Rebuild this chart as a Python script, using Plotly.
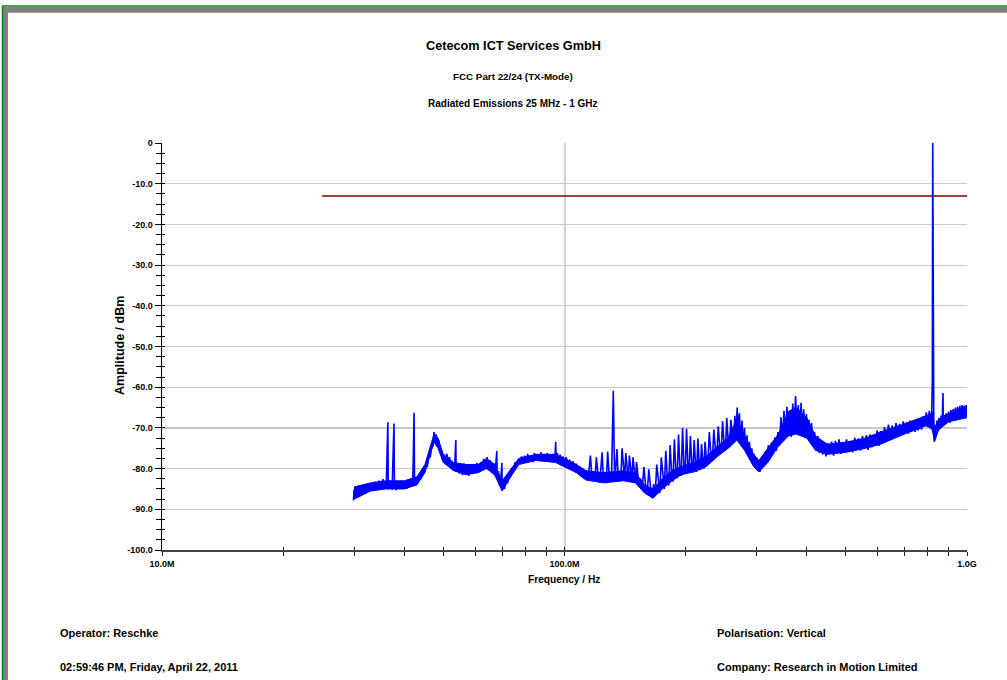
import plotly.graph_objects as go

# ---------------- data ----------------
freq_mhz = [
    29.9, 30.0, 30.3, 30.6, 30.9, 31.2, 31.5, 31.8, 32.1, 32.4,
    32.7, 33.0, 33.4, 33.8, 34.2, 34.6, 35.0, 35.4, 35.8, 36.1,
    36.4, 36.5, 36.9, 37.3, 37.7, 37.8, 38.2, 38.6, 39.0, 39.4,
    39.8, 40.2, 40.6, 41.0, 41.5, 42.0, 42.3, 42.4, 42.8, 43.2,
    43.6, 44.0, 44.4, 44.8, 45.2, 45.6, 46.0, 46.4, 46.8, 47.1,
    47.4, 47.7, 48.0, 48.3, 48.7, 49.0, 49.4, 49.8, 50.2, 50.6,
    51.0, 51.4, 51.8, 52.2, 52.6, 53.0, 53.4, 53.7, 53.8, 54.3,
    54.8, 55.3, 55.8, 56.3, 56.8, 57.3, 57.8, 58.3, 58.8, 59.4,
    60.0, 60.6, 61.2, 61.8, 62.4, 63.0, 63.6, 64.2, 64.8, 65.4,
    66.0, 66.6, 67.2, 67.9, 68.0, 68.5, 69.0, 69.5, 69.9, 70.0,
    70.5, 71.0, 71.6, 72.2, 72.8, 73.4, 74.0, 74.7, 75.4, 76.1,
    76.8, 77.5, 78.2, 78.9, 79.6, 80.3, 81.0, 81.8, 82.6, 83.4,
    84.2, 85.0, 85.8, 86.6, 87.4, 88.2, 89.0, 89.8, 90.6, 91.4,
    92.2, 93.0, 93.8, 94.6, 95.1, 95.3, 96.0, 96.8, 97.6, 98.4,
    99.2, 100.0, 101, 102, 103, 104, 105, 106, 107, 108,
    109, 110, 111, 112, 113, 114, 115, 116, 117, 118,
    119, 120, 121, 122, 123, 124, 125, 126, 127, 128,
    129, 130, 131, 132.2, 133.2, 134, 135, 136, 137, 138,
    139, 140, 141, 142, 143, 144, 145, 146, 147, 148,
    149, 150, 151, 152, 153, 154.5, 156, 157.5, 159, 160.5,
    162, 163.5, 165, 166.5, 168, 169.5, 171, 172.5, 174, 175.5,
    177, 178.5, 180, 181.5, 183, 184.5, 186, 187.5, 189, 190.5,
    192, 193.5, 195, 196.5, 198, 199.5, 201, 202.5, 204, 205.5,
    207, 208.5, 210, 211.5, 213, 214.5, 216, 217.5, 219, 220.5,
    222, 223.5, 225, 227, 229, 231, 233, 235, 237, 239,
    241, 243, 245, 247, 249, 251, 253, 255, 257, 259,
    261, 263, 265, 267, 268.5, 270, 272, 274, 276, 278,
    280, 282, 284, 286, 288, 290, 292, 294, 296, 298,
    300, 302, 304, 306, 309, 312, 315, 318, 321, 324,
    327, 330, 333, 336, 339, 342, 345, 348, 351, 354,
    357, 360, 363, 366, 369, 372, 375, 378, 381, 384,
    387, 390, 393, 396, 399, 402, 405, 408, 411, 414,
    418, 422, 426, 430, 434, 438, 442, 446, 451, 456,
    461, 466, 471, 476, 481, 486, 491, 496, 502, 508,
    514, 520, 526, 532, 538, 544, 550, 556, 562, 568,
    574, 580, 586, 592, 598, 604, 610, 617, 624, 631,
    638, 645, 652, 659, 666, 673, 680, 687, 694, 701,
    708, 715, 722, 729, 736, 743, 750, 757, 764, 771,
    778, 785, 792, 799, 806, 812, 817, 820, 822, 824,
    827, 830, 834, 838, 842, 847, 852, 857, 862, 867,
    871.7, 873, 878, 883, 888, 894, 900, 906, 912, 918,
    924, 930, 936, 942, 948, 954, 960, 966, 972, 978,
    984, 990, 996, 1000,
]

level_dbm = [
    -87.8, -85.2, -87.0, -85.0, -86.5, -84.6, -86.2, -84.2, -85.6, -83.8,
    -85.3, -83.6, -85.0, -83.2, -84.8, -83.0, -84.6, -82.6, -84.5, -83.2,
    -68.6, -84.8, -83.0, -85.2, -68.9, -84.0, -85.3, -83.2, -84.8, -83.0,
    -85.0, -83.4, -84.9, -83.0, -84.4, -82.8, -66.3, -83.6, -82.2, -83.4,
    -81.8, -82.6, -80.5, -81.2, -79.0, -79.6, -76.8, -77.2, -74.2, -74.6,
    -71.0, -72.6, -71.6, -73.4, -73.0, -75.8, -76.2, -77.8, -76.6, -77.8,
    -76.4, -78.0, -77.2, -79.8, -78.6, -80.4, -78.8, -73.0, -80.8, -79.0,
    -81.2, -79.4, -81.6, -78.8, -80.8, -79.2, -81.8, -79.0, -81.2, -79.4,
    -81.0, -78.6, -80.6, -79.2, -80.2, -77.6, -79.6, -77.2, -79.8, -78.0,
    -80.4, -78.6, -81.2, -75.7, -82.0, -80.6, -84.2, -82.4, -78.6, -85.4,
    -83.0, -85.0, -82.2, -83.6, -80.8, -82.0, -79.8, -80.6, -78.4, -79.6,
    -77.8, -78.8, -77.0, -78.6, -76.8, -78.4, -76.4, -78.2, -76.8, -78.4,
    -76.2, -77.8, -76.6, -78.0, -76.0, -77.6, -76.4, -78.2, -76.2, -77.8,
    -76.6, -78.4, -76.4, -77.6, -73.4, -77.8, -76.2, -78.2, -76.6, -78.6,
    -77.0, -79.2, -77.2, -79.4, -77.8, -79.8, -78.2, -80.6, -78.8, -81.2,
    -79.4, -82.0, -80.0, -82.4, -80.4, -82.8, -80.6, -76.8, -82.6, -80.8,
    -83.2, -77.2, -81.0, -83.4, -80.6, -76.0, -82.8, -80.8, -83.6, -75.8,
    -81.0, -83.2, -80.4, -60.9, -82.4, -80.2, -75.2, -82.8, -80.6, -83.0,
    -75.0, -80.4, -82.6, -76.2, -80.6, -83.0, -76.8, -80.8, -82.8, -77.2,
    -81.0, -83.4, -78.4, -81.6, -84.2, -82.4, -85.0, -79.6, -84.0, -86.0,
    -80.2, -84.4, -87.2, -83.8, -86.6, -79.0, -83.0, -86.0, -77.2, -82.4,
    -85.0, -75.6, -82.0, -84.2, -74.2, -81.0, -83.2, -72.8, -80.2, -82.4,
    -71.6, -79.6, -81.8, -70.0, -79.2, -81.2, -70.2, -78.8, -80.8, -72.0,
    -78.4, -80.6, -73.0, -78.6, -80.8, -72.6, -78.4, -80.4, -74.0, -78.0,
    -80.0, -73.4, -77.6, -79.0, -71.0, -76.4, -78.0, -70.4, -75.2, -77.0,
    -69.6, -74.6, -76.2, -68.4, -73.6, -75.6, -67.6, -73.0, -74.8, -68.0,
    -71.6, -73.8, -67.0, -72.0, -65.0, -70.6, -66.4, -73.6, -68.2, -74.4,
    -70.0, -75.6, -71.8, -76.4, -73.4, -77.8, -75.0, -79.0, -76.4, -79.8,
    -77.2, -80.6, -78.0, -80.8, -77.4, -79.6, -75.8, -78.4, -74.2, -77.6,
    -73.6, -76.4, -72.4, -75.6, -71.0, -74.4, -67.4, -72.6, -65.8, -72.0,
    -64.8, -71.4, -65.6, -72.2, -64.0, -70.6, -62.2, -70.0, -64.4, -71.6,
    -63.8, -71.0, -65.4, -72.4, -66.6, -72.8, -68.0, -73.4, -68.8, -74.4,
    -71.0, -75.4, -72.0, -76.2, -73.2, -76.6, -73.6, -77.0, -73.8, -76.4,
    -73.4, -76.8, -73.2, -76.2, -72.8, -76.4, -73.6, -76.0, -72.8, -75.8,
    -73.4, -76.0, -72.4, -75.4, -72.6, -75.6, -72.0, -75.0, -71.8, -75.4,
    -71.6, -74.8, -71.8, -74.2, -70.6, -74.4, -70.8, -73.0, -69.8, -72.6,
    -69.2, -72.2, -69.4, -72.0, -68.8, -71.6, -69.0, -71.8, -68.4, -71.2,
    -68.6, -71.4, -68.2, -70.8, -68.4, -71.0, -68.0, -70.6, -67.6, -70.4,
    -67.2, -69.4, -66.2, -68.8, -65.8, -70.2, -66.6, -59.0, 0.0, -60.0,
    -70.0, -73.4, -69.6, -71.4, -68.2, -70.6, -67.6, -69.8, -67.0, -69.6,
    -61.4, -69.0, -66.8, -69.2, -66.4, -68.6, -66.0, -68.8, -65.6, -68.2,
    -65.4, -67.8, -65.0, -67.6, -64.8, -67.2, -64.6, -67.4, -64.4, -66.8,
    -64.6, -66.4, -64.4, -65.6,
]

# solid core of the noise band (upper / lower edge)
band_freq_mhz = [
    30, 33, 36, 40, 43, 45, 47.4, 48.5, 50, 53,
    57, 61, 64, 67, 70, 73, 77, 85, 95, 100,
    107, 113, 125, 140, 150, 158, 166, 175, 185, 195,
    210, 225, 240, 255, 268, 280, 295, 304, 320, 340,
    360, 376, 400, 420, 450, 500, 560, 610, 700, 790,
    815, 822, 830, 850, 900, 1000,
]
band_upper_dbm = [
    -84.5, -83.5, -83.0, -83.0, -82.0, -79.0, -71.5, -72.5, -76.5, -78.5,
    -79.0, -79.0, -77.5, -79.0, -83.0, -80.5, -77.5, -76.5, -76.5, -77.5,
    -79.0, -80.5, -81.0, -80.5, -81.0, -84.0, -85.0, -82.5, -80.5, -79.5,
    -78.5, -77.0, -74.5, -72.5, -68.0, -72.0, -76.5, -78.0, -75.0, -71.5,
    -66.0, -65.0, -67.5, -72.0, -74.0, -73.5, -72.5, -71.0, -69.0, -67.0,
    -66.5, -66.0, -70.0, -68.0, -66.5, -64.5,
]
band_lower_dbm = [
    -87.5, -85.5, -85.0, -85.0, -84.0, -81.0, -73.5, -75.0, -78.5, -80.5,
    -81.5, -81.0, -80.0, -81.5, -85.5, -82.5, -79.0, -78.0, -78.5, -79.5,
    -81.0, -82.8, -83.5, -83.0, -83.5, -86.0, -87.3, -85.0, -83.0, -81.5,
    -80.8, -79.5, -77.0, -75.0, -73.0, -75.5, -79.5, -80.8, -78.5, -74.5,
    -72.0, -71.5, -72.5, -75.5, -76.5, -76.0, -75.0, -74.0, -71.5, -69.5,
    -70.0, -71.0, -73.4, -70.5, -68.5, -67.5,
]

limit_freq_mhz = [25, 1000]
limit_level_dbm = [-13, -13]

x_tick_vals = [10, 100, 1000]
x_tick_text = ["10.0M", "100.0M", "1.0G"]
y_tick_vals = [0, -10, -20, -30, -40, -50, -60, -70, -80, -90, -100]
y_tick_text = ["0", "-10.0", "-20.0", "-30.0", "-40.0", "-50.0", "-60.0",
               "-70.0", "-80.0", "-90.0", "-100.0"]

title_lines = ["Cetecom ICT Services GmbH", "FCC Part 22/24 (TX-Mode)",
               "Radiated Emissions 25 MHz - 1 GHz"]
footer_left = ["Operator: Reschke", "02:59:46 PM, Friday, April 22, 2011"]
footer_right = ["Polarisation: Vertical", "Company: Research in Motion Limited"]

# ---------------- layout helpers ----------------
W, H = 1007, 680
L, R, T, B = 162, 967, 143, 550


def px(x):
    return (x - L) / (R - L)


def py(y):
    return (B - y) / (B - T)


FONT = "Liberation Sans, Arial, sans-serif"
NARROW = "Liberation Sans Narrow, Arial Narrow, Liberation Sans, Arial, sans-serif"

minor_x = [m * d for d in (10, 100) for m in range(2, 10)]
minor_y = [-(i * 2.5) for i in range(1, 40) if i % 4 != 0]

fig = go.Figure()
fig.add_trace(go.Scatter(x=band_freq_mhz + band_freq_mhz[::-1],
                         y=band_upper_dbm + band_lower_dbm[::-1],
                         mode="lines", fill="toself", fillcolor="#0000FF",
                         line=dict(color="#0000FF", width=1),
                         xaxis="x", yaxis="y", hoverinfo="skip"))
fig.add_trace(go.Scatter(x=freq_mhz, y=level_dbm, mode="lines",
                         line=dict(color="#0000FF", width=1.6),
                         xaxis="x", yaxis="y", hoverinfo="skip"))
fig.add_trace(go.Scatter(x=limit_freq_mhz, y=limit_level_dbm, mode="lines",
                         line=dict(color="#800000", width=1.5),
                         xaxis="x2", yaxis="y2", hoverinfo="skip"))

tickfont = dict(family=NARROW, size=9, color="black", weight="bold")

fig.update_layout(
    width=W, height=H, autosize=False,
    margin=dict(l=L, r=W - R, t=T, b=H - B, pad=0),
    paper_bgcolor="white", plot_bgcolor="white",
    showlegend=False,
    xaxis=dict(type="log", range=[1, 3], tickmode="array",
               tickvals=x_tick_vals, ticktext=x_tick_text,
               ticks="outside", ticklen=4, tickwidth=1, tickcolor="#222",
               showline=True, linecolor="#444", linewidth=2,
               showgrid=True, gridcolor="#d2d2d2", gridwidth=2,
               zeroline=False, tickfont=tickfont,
               minor=dict(tickvals=minor_x, ticks="outside", ticklen=4,
                          tickwidth=1, tickcolor="#222", showgrid=False)),
    xaxis2=dict(type="log", range=[1, 3], overlaying="x", anchor="y",
                side="bottom", tickmode="array", tickvals=x_tick_vals,
                ticks="inside", ticklen=3, tickwidth=1, tickcolor="#222",
                showticklabels=False, showgrid=False, showline=False,
                zeroline=False,
                minor=dict(tickvals=minor_x, ticks="inside", ticklen=3,
                           tickwidth=1, tickcolor="#222", showgrid=False)),
    yaxis=dict(range=[-100, 0], tickmode="array", tickvals=y_tick_vals,
               ticktext=y_tick_text, ticks="outside", ticklen=6,
               tickwidth=1, tickcolor="black",
               showline=True, linecolor="black", linewidth=1.5,
               showgrid=True, gridcolor="#c8c8c8", gridwidth=1.2,
               zeroline=False, tickfont=tickfont,
               minor=dict(tickvals=minor_y, ticks="outside", ticklen=5,
                          tickwidth=1, tickcolor="black", showgrid=False)),
    yaxis2=dict(range=[-100, 0], overlaying="y", anchor="x", side="left",
                tickmode="array", tickvals=y_tick_vals, ticks="inside",
                ticklen=3, tickwidth=1, tickcolor="black",
                showticklabels=False, showgrid=False, showline=False,
                zeroline=False,
                minor=dict(tickvals=minor_y, ticks="inside", ticklen=3,
                           tickwidth=1, tickcolor="black", showgrid=False)),
)

ann = []
title_specs = [(46, 12.7), (76, 9.8), (103, 10)]
for text, (yy, size) in zip(title_lines, title_specs):
    ann.append(dict(text=text, x=px(513), y=py(yy), xref="paper", yref="paper",
                    xanchor="center", yanchor="middle", showarrow=False,
                    font=dict(family=FONT, size=size, color="black", weight="bold")))

ann.append(dict(text="Amplitude / dBm", x=px(120), y=py(346), xref="paper",
                yref="paper", xanchor="center", yanchor="middle", textangle=-90,
                showarrow=False,
                font=dict(family=FONT, size=12.5, color="black", weight="bold")))
ann.append(dict(text="Frequency / Hz", x=px(564), y=py(579), xref="paper",
                yref="paper", xanchor="center", yanchor="middle", showarrow=False,
                font=dict(family=FONT, size=10.2, color="black", weight="bold")))

for text, yy in zip(footer_left, (633, 667)):
    ann.append(dict(text=text, x=px(58), y=py(yy), xref="paper", yref="paper",
                    xanchor="left", yanchor="middle", showarrow=False,
                    font=dict(family=FONT, size=11, color="black", weight="bold")))
for text, yy in zip(footer_right, (633, 667)):
    ann.append(dict(text=text, x=px(715), y=py(yy), xref="paper", yref="paper",
                    xanchor="left", yanchor="middle", showarrow=False,
                    font=dict(family=FONT, size=11, color="black", weight="bold")))
fig.update_layout(annotations=ann)

# window frame decoration
shapes = [
    dict(type="rect", x0=px(3), x1=px(1010), y0=py(7), y1=py(12.7),
         fillcolor="#808080", line=dict(width=0)),
    dict(type="rect", x0=px(3), x1=px(8), y0=py(7), y1=py(685),
         fillcolor="#808080", line=dict(width=0)),
    dict(type="line", x0=px(2), x1=px(1010), y0=py(6), y1=py(6),
         line=dict(color="#108010", width=1.5)),
    dict(type="line", x0=px(2.5), x1=px(2.5), y0=py(6), y1=py(685),
         line=dict(color="#108010", width=1.5)),
]
for s in shapes:
    s.update(xref="paper", yref="paper", layer="above")
fig.update_layout(shapes=shapes)

fig.write_html("out.html",
               config={"displayModeBar": False, "staticPlot": True},
               post_script="document.body.style.margin='0px';"
                           "document.body.style.overflow='hidden';")
